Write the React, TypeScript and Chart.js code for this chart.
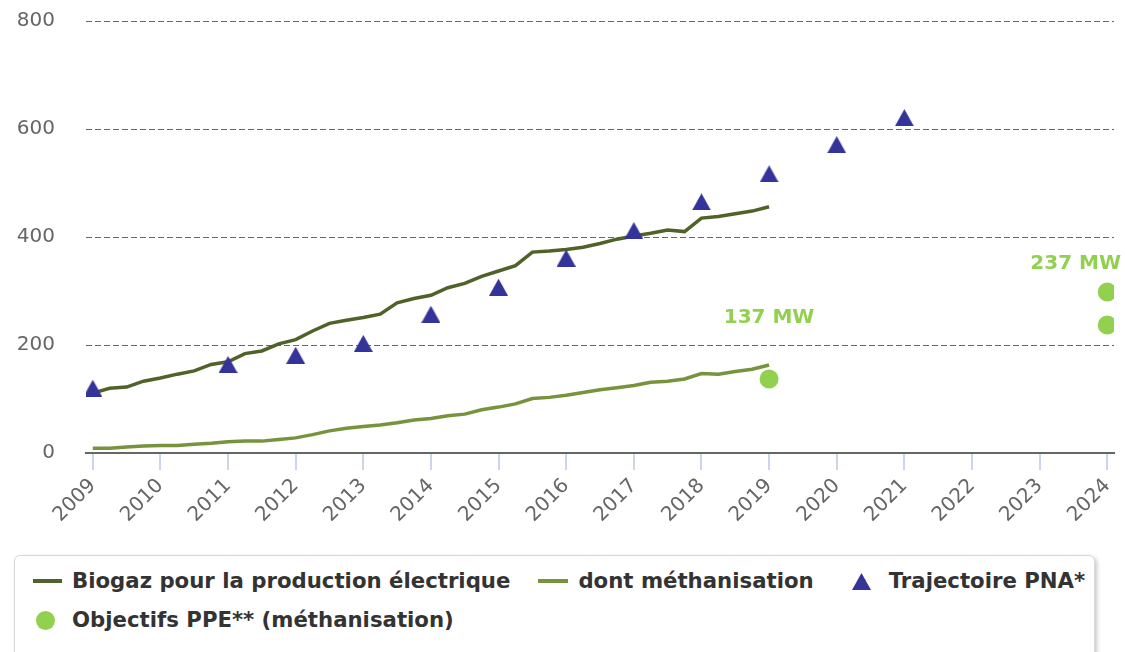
import React, { useEffect, useRef } from 'react';
import { Chart, registerables } from 'chart.js';

Chart.register(...registerables);

const FONT = '"DejaVu Sans", Verdana, sans-serif';

// Quarterly time axis (decimal years)
const quarters = [
  2009, 2009.25, 2009.5, 2009.75,
  2010, 2010.25, 2010.5, 2010.75,
  2011, 2011.25, 2011.5, 2011.75,
  2012, 2012.25, 2012.5, 2012.75,
  2013, 2013.25, 2013.5, 2013.75,
  2014, 2014.25, 2014.5, 2014.75,
  2015, 2015.25, 2015.5, 2015.75,
  2016, 2016.25, 2016.5, 2016.75,
  2017, 2017.25, 2017.5, 2017.75,
  2018, 2018.25, 2018.5, 2018.75,
  2019,
];

// Biogaz pour la production électrique (MW)
const biogaz = [
  111, 120, 122, 133,
  139, 146, 152, 164,
  169, 184, 189, 202,
  210, 226, 240, 246,
  251, 257, 278, 286,
  292, 306, 314, 327,
  337, 347, 372, 374,
  377, 381, 388, 396,
  402, 407, 413, 410,
  435, 438, 443, 448,
  456,
];

// dont méthanisation (MW)
const methanisation = [
  9, 9, 11, 13,
  14, 14, 16, 18,
  21, 22, 22, 25,
  28, 34, 41, 46,
  49, 52, 56, 61,
  64, 69, 72, 80,
  85, 91, 101, 103,
  107, 112, 117, 121,
  125, 131, 133, 137,
  147, 146, 151, 155,
  163,
];

// Trajectoire PNA*
const pnaYears = [2009, 2011, 2012, 2013, 2014, 2015, 2016, 2017, 2018, 2019, 2020, 2021];
const pnaValues = [120, 164, 181, 203, 257, 307, 361, 412, 465, 517, 571, 621];

// Objectifs PPE** (méthanisation)
const ppeYears = [2019, 2024, 2024];
const ppeValues = [137, 298, 237];

// Axis ticks
const yearTicks = [2009, 2010, 2011, 2012, 2013, 2014, 2015, 2016, 2017, 2018, 2019, 2020, 2021, 2022, 2023, 2024];

// Annotation labels
const annotationTexts = ['137 MW', '237 MW'];
const annotationYears = [2019, 2024];
const annotationLevels = [250, 350];

const seriesNames = [
  'Biogaz pour la production électrique',
  'dont méthanisation',
  'Trajectoire PNA*',
  'Objectifs PPE** (méthanisation)',
];

const DARK = '#4f6228';
const LIGHT = '#77933c';
const NAVY = '#333399';
const GREEN = '#92d050';

function makeTriangle(): HTMLCanvasElement {
  const c = document.createElement('canvas');
  const w = 19;
  const h = 17;
  c.width = w;
  c.height = h;
  const ctx = c.getContext('2d')!;
  ctx.fillStyle = NAVY;
  ctx.beginPath();
  ctx.moveTo(w / 2, 0);
  ctx.lineTo(w, h);
  ctx.lineTo(0, h);
  ctx.closePath();
  ctx.fill();
  return c;
}

const annotationPlugin = {
  id: 'mwLabels',
  afterDatasetsDraw(chart: any) {
    const { ctx } = chart;
    const xs = chart.scales.x;
    const ys = chart.scales.y;
    ctx.save();
    ctx.font = `bold 20px ${FONT}`;
    ctx.fillStyle = GREEN;
    ctx.textAlign = 'center';
    ctx.textBaseline = 'middle';
    annotationTexts.forEach((t, i) => {
      const w = ctx.measureText(t).width;
      let x = xs.getPixelForValue(annotationYears[i]);
      const y = ys.getPixelForValue(annotationLevels[i]);
      if (x + w / 2 > chart.width - 4) x = chart.width - 4 - w / 2;
      ctx.fillText(t, x, y);
    });
    ctx.restore();
  },
};

export default function App() {
  const ref = useRef<HTMLCanvasElement>(null);

  useEffect(() => {
    const tri = makeTriangle();
    const chart = new Chart(ref.current!, {
      type: 'line',
      data: {
        datasets: [
          {
            label: seriesNames[0],
            data: quarters.map((x, i) => ({ x, y: biogaz[i] })),
            borderColor: DARK,
            borderWidth: 3.5,
            pointRadius: 0,
            tension: 0,
            order: 4,
          },
          {
            label: seriesNames[1],
            data: quarters.map((x, i) => ({ x, y: methanisation[i] })),
            borderColor: LIGHT,
            borderWidth: 3.5,
            pointRadius: 0,
            tension: 0,
            order: 3,
          },
          {
            label: seriesNames[2],
            data: pnaYears.map((x, i) => ({ x, y: pnaValues[i] })),
            showLine: false,
            pointStyle: tri,
            pointRadius: 10,
            backgroundColor: NAVY,
            borderColor: NAVY,
            order: 2,
          },
          {
            label: seriesNames[3],
            data: ppeYears.map((x, i) => ({ x, y: ppeValues[i] })),
            showLine: false,
            pointStyle: 'circle',
            pointRadius: 9.5,
            backgroundColor: GREEN,
            borderColor: GREEN,
            borderWidth: 0,
            order: 1,
          },
        ] as any,
      },
      options: {
        animation: false,
        responsive: false,
        maintainAspectRatio: false,
        layout: { padding: { top: 21, right: 10, bottom: 0, left: 0 } },
        plugins: {
          legend: { display: false },
          tooltip: { enabled: false },
        },
        scales: {
          x: {
            type: 'linear',
            min: 2008.9,
            max: 2024.1,
            afterBuildTicks: (s: any) => {
              s.ticks = yearTicks.map((v) => ({ value: v }));
            },
            afterFit: (s: any) => {
              s.height = 92;
              s.paddingTop = 0;
              s.paddingBottom = 0;
              s.paddingLeft = 0;
              s.paddingRight = 0;
            },
            ticks: {
              minRotation: 45,
              maxRotation: 45,
              color: '#666',
              font: { family: FONT, size: 20 },
              padding: 4,
              autoSkip: false,
              callback: (v: any) => String(v),
            },
            grid: {
              drawOnChartArea: false,
              drawTicks: true,
              tickLength: 17,
              color: '#ccd6eb',
              lineWidth: 2,
            },
            border: { display: true, color: '#666', width: 2 },
          },
          y: {
            min: 0,
            max: 800,
            afterFit: (s: any) => {
              s.width = 86;
              s.paddingTop = 0;
              s.paddingBottom = 0;
              s.paddingLeft = 0;
              s.paddingRight = 0;
            },
            ticks: {
              stepSize: 200,
              color: '#666',
              font: { family: FONT, size: 20 },
              padding: 31,
            },
            grid: { color: '#666', lineWidth: 1, drawTicks: false },
            border: { display: false, dash: [6, 3] },
          },
        },
      } as any,
      plugins: [annotationPlugin],
    });
    return () => chart.destroy();
  }, []);

  const lineSym = (color: string, w: number) => (
    <span style={{ display: 'inline-block', width: w, height: 4, background: color }} />
  );

  return (
    <div
      style={{
        position: 'absolute',
        left: 0,
        top: 0,
        width: 1125,
        height: 652,
        overflow: 'hidden',
        background: '#fff',
      }}
    >
      <canvas ref={ref} width={1125} height={545} style={{ position: 'absolute', left: 0, top: 0 }} />
      <div
        style={{
          position: 'absolute',
          left: 14,
          top: 555,
          width: 1081,
          height: 110,
          boxSizing: 'border-box',
          border: '1px solid #d9d9d9',
          borderRadius: 6,
          boxShadow: '2px 2px 4px rgba(0,0,0,0.22)',
          background: '#fff',
          fontFamily: FONT,
          fontWeight: 'bold',
          fontSize: 21.25,
          color: '#333',
        }}
      >
        <div
          style={{
            position: 'absolute',
            left: 18,
            top: 12,
            height: 26,
            display: 'flex',
            alignItems: 'center',
            whiteSpace: 'nowrap',
            lineHeight: '26px',
          }}
        >
          {lineSym(DARK, 29)}
          <span style={{ marginLeft: 10, marginRight: 28 }}>{seriesNames[0]}</span>
          {lineSym(LIGHT, 30)}
          <span style={{ marginLeft: 10, marginRight: 38 }}>{seriesNames[1]}</span>
          <svg width={19} height={17} style={{ display: 'block' }}>
            <polygon points="9.5,0 19,17 0,17" fill={NAVY} />
          </svg>
          <span style={{ marginLeft: 18 }}>{seriesNames[2]}</span>
        </div>
        <div
          style={{
            position: 'absolute',
            left: 21,
            top: 51,
            height: 26,
            display: 'flex',
            alignItems: 'center',
            whiteSpace: 'nowrap',
            lineHeight: '26px',
          }}
        >
          <span
            style={{
              display: 'inline-block',
              width: 19,
              height: 19,
              borderRadius: '50%',
              background: GREEN,
            }}
          />
          <span style={{ marginLeft: 17 }}>{seriesNames[3]}</span>
        </div>
      </div>
    </div>
  );
}
